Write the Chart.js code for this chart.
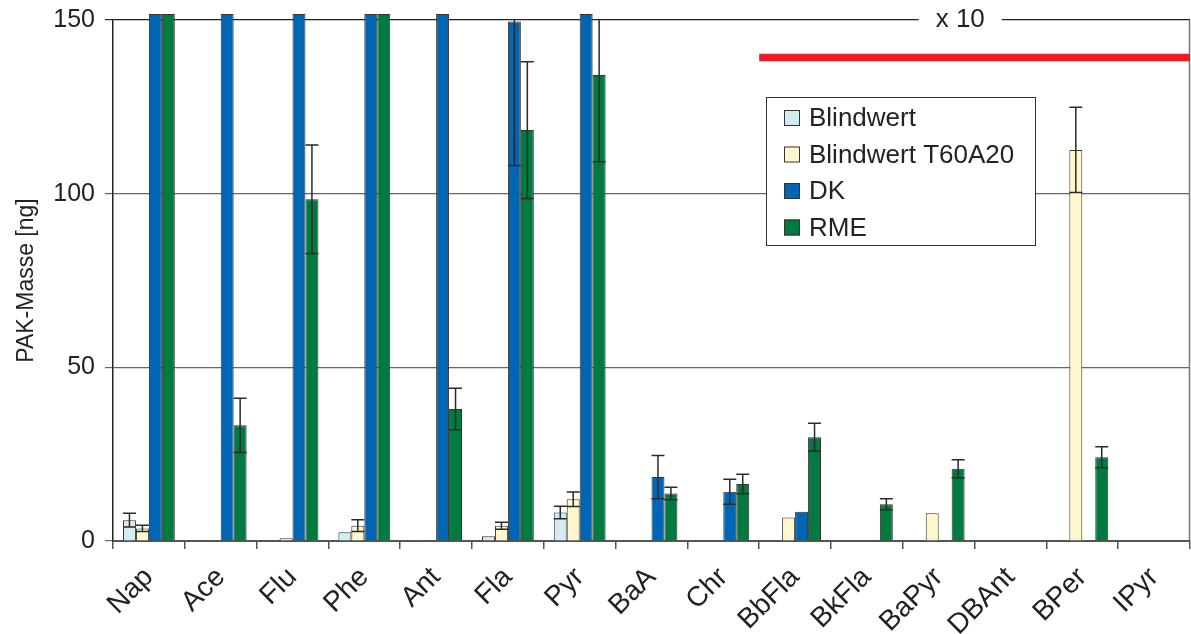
<!DOCTYPE html>
<html>
<head>
<meta charset="utf-8">
<script src="https://cdn.jsdelivr.net/npm/chart.js@4.4.1/dist/chart.umd.min.js"></script>
<style>
  html, body { margin: 0; padding: 0; background: #fff; }
  #wrap { width: 1191px; height: 634px; }
</style>
</head>
<body>
<div id="wrap"><canvas id="pakChart" width="1191" height="634"></canvas></div>
<script>
// --- DATEN ---
const categories = ['Nap', 'Ace', 'Flu', 'Phe', 'Ant', 'Fla', 'Pyr', 'BaA', 'Chr', 'BbFla', 'BkFla', 'BaPyr', 'DBAnt', 'BPer', 'IPyr'];
const seriesNames = ['Blindwert', 'Blindwert T60A20', 'DK', 'RME'];

// Werte > 150 laufen über den Rand (x 10 Bereich)
const blindwert    = [6.0, 0, 0, 2.5, 0.3, 1.4, 8.2, 0, 0, 0, 0, 0, 0, 0, 0];
const blindwertErr = [2.0, 0, 0, 0, 0, 0, 1.8, 0, 0, 0, 0, 0, 0, 0, 0];
const t60a20       = [3.6, 0, 0.8, 4.4, 0, 4.4, 12.0, 0, 0, 6.8, 0, 8.0, 0, 112.6, 0];
const t60a20Err    = [0.9, 0, 0, 1.7, 0, 1.0, 2.1, 0, 0, 0, 0, 0, 0, 12.3, 0];
const dk           = [151.7, 151.7, 151.7, 151.7, 151.7, 149.6, 151.7, 18.4, 14.2, 8.4, 0, 0, 0, 0, 0];
const dkErr        = [0, 0, 0, 0, 0, 41.5, 0, 6.2, 3.6, 0, 0, 0, 0, 0, 0];
const rme          = [151.7, 33.3, 98.4, 151.7, 38.0, 118.3, 134.2, 13.7, 16.4, 29.9, 10.6, 20.8, 0, 24.1, 0];
const rmeErr       = [0, 7.8, 15.6, 0, 6.0, 19.7, 25.0, 1.8, 2.8, 4.0, 1.6, 2.6, 0, 3.0, 0];

const yTicks = [0, 50, 100, 150];
const redLineLevel = 139.2;   // rote Linie "x 10"
const redLineFrom = 8.5;      // ab BbFla
const x10Label = 'x 10';

const colors = ['#d3ebf3', '#fff8cf', '#0066b3', '#007a3e'];
const FONT = 'Liberation Sans, Arial, Helvetica, sans-serif';

const errors = [blindwertErr, t60a20Err, dkErr, rmeErr];
const values = [blindwert, t60a20, dk, rme];

// --- FEHLERBALKEN ---
const errorBars = {
  id: 'errorBars',
  afterDatasetsDraw(chart) {
    const ctx = chart.ctx;
    const y = chart.scales.y;
    const area = chart.chartArea;
    ctx.save();
    ctx.beginPath();
    ctx.rect(area.left, area.top - 1, area.right - area.left, area.bottom - area.top + 2);
    ctx.clip();
    ctx.strokeStyle = '#2a2a2a';
    ctx.lineWidth = 1.5;
    chart.data.datasets.forEach((ds, i) => {
      const meta = chart.getDatasetMeta(i);
      meta.data.forEach((bar, j) => {
        const e = errors[i][j];
        if (!e) return;
        const v = values[i][j];
        const yt = y.getPixelForValue(v + e);
        const yb = y.getPixelForValue(v - e);
        const hw = bar.width / 2;
        ctx.beginPath();
        ctx.moveTo(bar.x, yt); ctx.lineTo(bar.x, yb);
        ctx.moveTo(bar.x - hw, yt); ctx.lineTo(bar.x + hw, yt);
        ctx.moveTo(bar.x - hw, yb); ctx.lineTo(bar.x + hw, yb);
        ctx.stroke();
      });
    });
    ctx.restore();
  }
};

// --- DEKO: rote Linie, "x 10", Legende, Rahmen ---
const decorations = {
  id: 'decorations',
  afterDraw(chart) {
    const ctx = chart.ctx;
    const x = chart.scales.x;
    const y = chart.scales.y;
    const area = chart.chartArea;
    ctx.save();

    // rechter Rahmen
    ctx.strokeStyle = '#777';
    ctx.lineWidth = 1.5;
    ctx.beginPath();
    ctx.moveTo(area.right - 0.5, area.top);
    ctx.lineTo(area.right - 0.5, area.bottom);
    ctx.stroke();

    // rote Linie
    const ry = y.getPixelForValue(redLineLevel);
    ctx.strokeStyle = '#ed1c24';
    ctx.lineWidth = 7.5;
    ctx.beginPath();
    ctx.moveTo(x.getPixelForValue(redLineFrom), ry);
    ctx.lineTo(area.right, ry);
    ctx.stroke();

    // "x 10" mit Lücke in der Gitterlinie
    ctx.font = '26px ' + FONT;
    const tx = x.getPixelForValue(11.3);
    const tw = ctx.measureText(x10Label).width;
    ctx.fillStyle = '#fff';
    ctx.fillRect(tx - tw / 2 - 17, area.top - 4, tw + 34, 8);
    ctx.fillStyle = '#222';
    ctx.textAlign = 'center';
    ctx.textBaseline = 'middle';
    ctx.fillText(x10Label, tx, area.top);

    // Legende
    const lx = 766, ly = 97, lw = 269, lh = 148;
    ctx.fillStyle = '#fff';
    ctx.fillRect(lx, ly, lw, lh);
    ctx.strokeStyle = '#333';
    ctx.lineWidth = 1;
    ctx.strokeRect(lx + 0.5, ly + 0.5, lw, lh);
    ctx.textAlign = 'left';
    seriesNames.forEach((name, i) => {
      const cy = ly + 21 + i * 36.5;
      ctx.fillStyle = colors[i];
      ctx.fillRect(lx + 18, cy - 8, 16, 16);
      ctx.strokeStyle = '#333';
      ctx.strokeRect(lx + 18.5, cy - 7.5, 15, 15);
      ctx.fillStyle = '#222';
      ctx.fillText(name, lx + 43, cy + 1);
    });
    ctx.restore();
  }
};

const ctx = document.getElementById('pakChart').getContext('2d');
const myChart = new Chart(ctx, {
  type: 'bar',
  data: {
    labels: categories,
    datasets: seriesNames.map((name, i) => ({
      label: name,
      data: values[i],
      backgroundColor: colors[i],
      borderColor: '#333',
      borderWidth: 1,
      categoryPercentage: 0.722,
      barPercentage: 1.0,
      clip: false
    }))
  },
  options: {
    responsive: false,
    animation: false,
    layout: { padding: { top: 20, right: 1, left: 0, bottom: 0 } },
    plugins: {
      legend: { display: false },
      tooltip: { enabled: false }
    },
    scales: {
      x: {
        offset: true,
        grid: {
          offset: true,
          drawOnChartArea: false,
          drawTicks: true,
          tickLength: 8,
          color: '#555',
          lineWidth: 1.5
        },
        border: { display: true, color: '#555', width: 2 },
        ticks: {
          color: '#222',
          font: { family: FONT, size: 28 },
          minRotation: 45,
          maxRotation: 45,
          padding: 12,
          autoSkip: false
        },
        afterFit(scale) { scale.height = 93; }
      },
      y: {
        min: 0,
        max: 150,
        afterBuildTicks(scale) { scale.ticks = yTicks.map(v => ({ value: v })); },
        grid: {
          color: ctx => ctx.tick && ctx.tick.value === 150 ? '#222' : '#666',
          lineWidth: 1.2,
          tickLength: 8
        },
        border: { display: true, color: '#222', width: 1.5 },
        ticks: {
          color: '#222',
          font: { family: FONT, size: 25 },
          padding: 10
        },
        title: {
          display: true,
          text: 'PAK-Masse [ng]',
          color: '#222',
          font: { family: FONT, size: 23 },
          padding: { top: 13, bottom: 0 }
        },
        afterFit(scale) {
          scale.width = 113;
          scale.paddingTop = 0;
          scale.paddingBottom = 0;
        }
      }
    }
  },
  plugins: [errorBars, decorations]
});
</script>
</body>
</html>
